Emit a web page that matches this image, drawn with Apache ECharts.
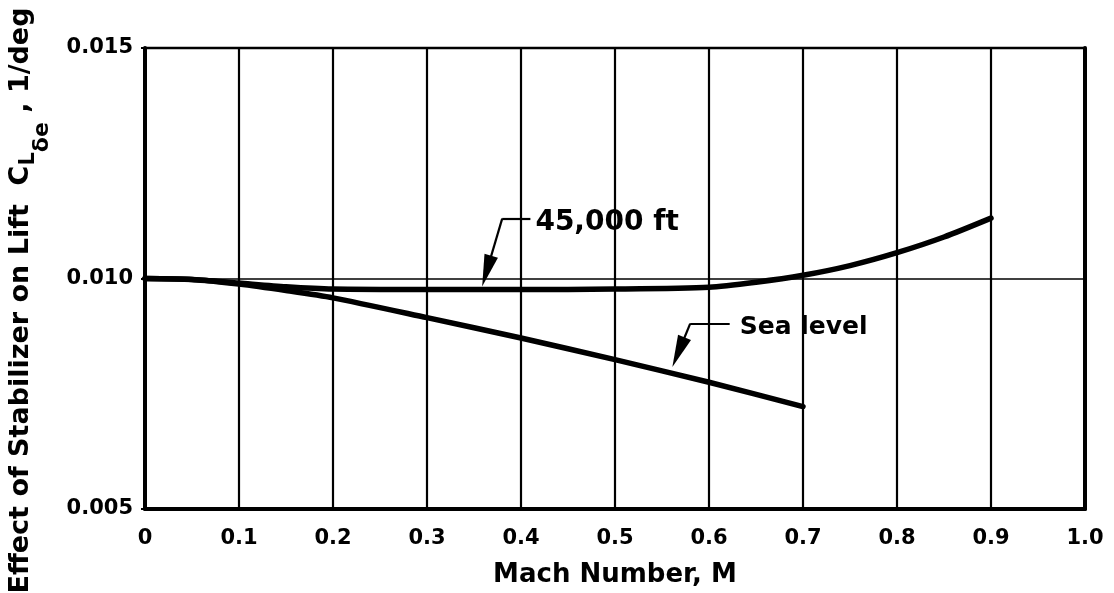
<!DOCTYPE html>
<html>
<head>
<meta charset="utf-8">
<script src="https://cdn.jsdelivr.net/npm/echarts@6/dist/echarts.min.js"></script>
<style>
html,body{margin:0;padding:0;background:#fff;}
#chart{width:1114px;height:593px;}
</style>
</head>
<body>
<div id="chart"></div>
<script>
// Mach number tick labels
const xTickLabels = ['0', '0.1', '0.2', '0.3', '0.4', '0.5', '0.6', '0.7', '0.8', '0.9', '1.0'];
const yTickLabels = ['0.005', '0.010', '0.015'];

// 45,000 ft curve
const mach45 = [0, 0.05, 0.1, 0.15, 0.2, 0.3, 0.4, 0.5, 0.6, 0.65, 0.7, 0.75, 0.8, 0.85, 0.9];
const cl45   = [0.01000, 0.00998, 0.00990, 0.00982, 0.00977, 0.00976, 0.00976, 0.00977, 0.00981, 0.00992, 0.01007, 0.01028, 0.01056, 0.01090, 0.01131];

// Sea level curve
const machSea = [0, 0.05, 0.1, 0.15, 0.2, 0.3, 0.4, 0.5, 0.6, 0.7];
const clSea   = [0.01000, 0.00998, 0.00988, 0.00974, 0.00958, 0.00915, 0.00871, 0.00824, 0.00775, 0.00722];

// Annotation labels
const label45 = '45,000 ft';
const labelSea = 'Sea level';

const FONT = 'DejaVu Sans';
const chart = echarts.init(document.getElementById('chart'), null, {renderer: 'canvas'});

function pairs(xs, ys) { return xs.map((x, i) => [x, ys[i]]); }

const leaderStyle = {color: '#000', width: 2.2, type: 'solid'};

const option = {
  animation: false,
  backgroundColor: '#fff',
  grid: {left: 145, right: 29, top: 48, bottom: 84, show: true, borderColor: '#000', borderWidth: 2.5,
    containLabel: false, outerBoundsMode: 'none'},
  xAxis: [{
    type: 'value', min: 0, max: 1, interval: 0.1,
    name: 'Mach Number, M', nameLocation: 'middle', nameGap: 53,
    nameTextStyle: {fontFamily: FONT, fontSize: 26, fontWeight: 'bold', color: '#000'},
    axisLine: {show: true, onZero: false, lineStyle: {color: '#000', width: 4}},
    axisTick: {show: false},
    axisLabel: {fontFamily: FONT, fontSize: 21, fontWeight: 'bold', color: '#000', margin: 19,
      formatter: v => xTickLabels[Math.round(v * 10)]},
    splitLine: {show: true, lineStyle: {color: '#000', width: 2.2}}
  }],
  yAxis: [{
    type: 'value', min: 0.005, max: 0.015, interval: 0.005,
    name: '{a|Effect of Stabilizer on Lift  C}{b|L}{c|δe}{d| , 1/deg}',
    nameLocation: 'middle', nameGap: 92, nameRotate: 90,
    nameTextStyle: {
      rich: {
        a: {fontFamily: FONT, fontSize: 27, fontWeight: 'bold', color: '#000', verticalAlign: 'middle'},
        b: {fontFamily: FONT, fontSize: 21, fontWeight: 'bold', color: '#000', verticalAlign: 'middle', padding: [16, 0, 0, 0]},
        c: {fontFamily: FONT, fontSize: 22, fontWeight: 'bold', color: '#000', verticalAlign: 'middle', padding: [42, 0, 0, 0]},
        d: {fontFamily: FONT, fontSize: 27, fontWeight: 'bold', color: '#000', verticalAlign: 'middle', padding: [0, 44, 0, 0]}
      }
    },
    axisLine: {show: true, onZero: false, lineStyle: {color: '#000', width: 4}},
    axisTick: {show: true, length: 4, lineStyle: {color: '#000', width: 2}},
    axisLabel: {fontFamily: FONT, fontSize: 21, fontWeight: 'bold', color: '#000', margin: 12,
      formatter: v => yTickLabels[Math.round((v - 0.005) / 0.005)]},
    splitLine: {show: true, lineStyle: {color: '#000', width: 1.5}}
  }, {
    type: 'value', min: 0.005, max: 0.015, interval: 0.005, position: 'right',
    axisLine: {show: true, onZero: false, lineStyle: {color: '#000', width: 4}},
    axisTick: {show: false}, axisLabel: {show: false}, splitLine: {show: false}
  }],
  series: [{
    name: '45,000 ft', type: 'line', smooth: 0.25, symbol: 'none',
    data: pairs(mach45, cl45),
    lineStyle: {color: '#000', width: 5.5, cap: 'round', join: 'round'},
    markLine: {
      silent: true, animation: false, symbol: 'none',
      lineStyle: leaderStyle, label: {show: false},
      data: [
        [{coord: [0.380, 0.01130], symbol: 'none'}, {coord: [0.410, 0.01130], symbol: 'none'}],
        [{coord: [0.380, 0.01130], symbol: 'none'}, {coord: [0.3635, 0.01016], symbol: 'triangle', symbolSize: [14, 32]}]
      ]
    },
    markPoint: {
      silent: true, animation: false, symbol: 'circle', symbolSize: 0,
      data: [{coord: [0.410, 0.01120], value: label45}],
      label: {show: true, position: 'right', distance: 5, formatter: label45,
        fontFamily: FONT, fontSize: 28, fontWeight: 'bold', color: '#000'}
    }
  }, {
    name: 'Sea level', type: 'line', smooth: 0.25, symbol: 'none',
    data: pairs(machSea, clSea),
    lineStyle: {color: '#000', width: 5.5, cap: 'round', join: 'round'},
    markLine: {
      silent: true, animation: false, symbol: 'none',
      lineStyle: leaderStyle, label: {show: false},
      data: [
        [{coord: [0.580, 0.00902], symbol: 'none'}, {coord: [0.622, 0.00902], symbol: 'none'}],
        [{coord: [0.580, 0.00902], symbol: 'none'}, {coord: [0.5675, 0.00840], symbol: 'triangle', symbolSize: [14, 32]}]
      ]
    },
    markPoint: {
      silent: true, animation: false, symbol: 'circle', symbolSize: 0,
      data: [{coord: [0.622, 0.00893], value: labelSea}],
      label: {show: true, position: 'right', distance: 10, formatter: labelSea,
        fontFamily: FONT, fontSize: 25, fontWeight: 'bold', color: '#000'}
    }
  }]
};
chart.setOption(option);
</script>
</body>
</html>
